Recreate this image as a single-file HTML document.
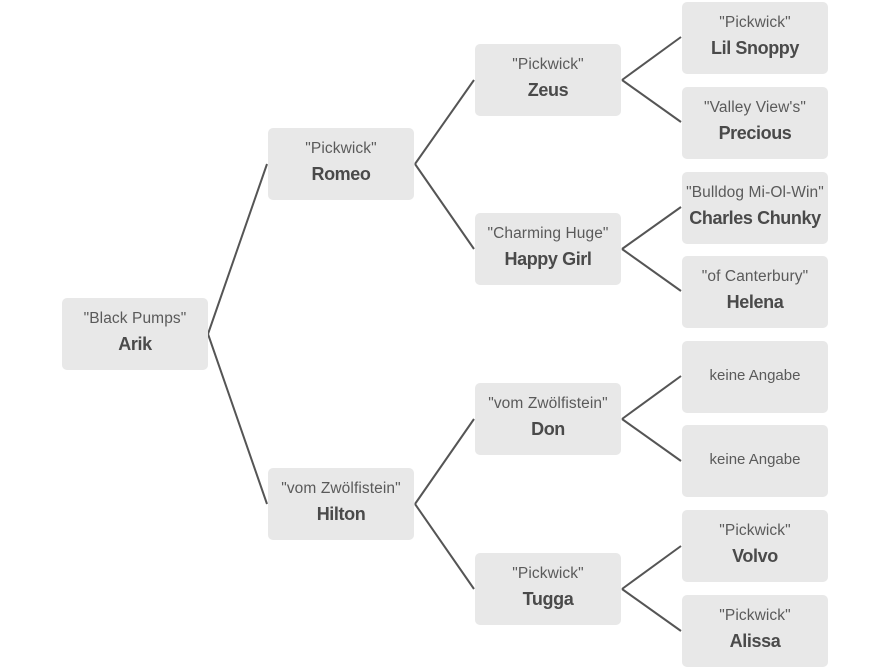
<!DOCTYPE html>
<html><head><meta charset="utf-8"><style>
body{margin:0;width:889px;height:669px;background:#fff;position:relative;overflow:hidden;font-family:"Liberation Sans",Arial,sans-serif}
.b{position:absolute;width:146px;height:72px;background:#e8e8e8;border-radius:5px;text-align:center;color:#555}
.b .t{position:absolute;left:-10px;right:-10px;top:12px;font-size:15.5px;color:#5a5a5a;letter-spacing:0.1px}
.b .n{position:absolute;left:-10px;right:-10px;top:36px;font-size:18px;font-weight:bold;color:#4a4a4a;letter-spacing:-0.4px}
.b .k{position:absolute;left:0;right:0;top:26px;font-size:15px;color:#5a5a5a}
svg{position:absolute;left:0;top:0}
</style></head><body>
<svg width="889" height="669"><g stroke="#555" stroke-width="2" fill="none">
<path d="M208 334L267 164M208 334L267 504"/>
<path d="M415 164L474 80M415 164L474 249M415 504L474 419M415 504L474 589"/>
<path d="M622 80L681 37M622 80L681 122M622 249L681 207M622 249L681 291M622 419L681 376M622 419L681 461M622 589L681 546M622 589L681 631"/>
</g></svg>
<div class="b" style="left:62px;top:298px"><div class="t">"Black Pumps"</div><div class="n">Arik</div></div>
<div class="b" style="left:268px;top:128px"><div class="t">"Pickwick"</div><div class="n">Romeo</div></div>
<div class="b" style="left:268px;top:468px"><div class="t">"vom Zwölfistein"</div><div class="n">Hilton</div></div>
<div class="b" style="left:475px;top:44px"><div class="t">"Pickwick"</div><div class="n">Zeus</div></div>
<div class="b" style="left:475px;top:213px"><div class="t">"Charming Huge"</div><div class="n">Happy Girl</div></div>
<div class="b" style="left:475px;top:383px"><div class="t">"vom Zwölfistein"</div><div class="n">Don</div></div>
<div class="b" style="left:475px;top:553px"><div class="t">"Pickwick"</div><div class="n">Tugga</div></div>
<div class="b" style="left:682px;top:2px"><div class="t">"Pickwick"</div><div class="n">Lil Snoppy</div></div>
<div class="b" style="left:682px;top:87px"><div class="t">"Valley View's"</div><div class="n">Precious</div></div>
<div class="b" style="left:682px;top:172px"><div class="t">"Bulldog Mi-Ol-Win"</div><div class="n">Charles Chunky</div></div>
<div class="b" style="left:682px;top:256px"><div class="t">"of Canterbury"</div><div class="n">Helena</div></div>
<div class="b" style="left:682px;top:341px"><div class="k">keine Angabe</div></div>
<div class="b" style="left:682px;top:425px"><div class="k">keine Angabe</div></div>
<div class="b" style="left:682px;top:510px"><div class="t">"Pickwick"</div><div class="n">Volvo</div></div>
<div class="b" style="left:682px;top:595px"><div class="t">"Pickwick"</div><div class="n">Alissa</div></div>
</body></html>
